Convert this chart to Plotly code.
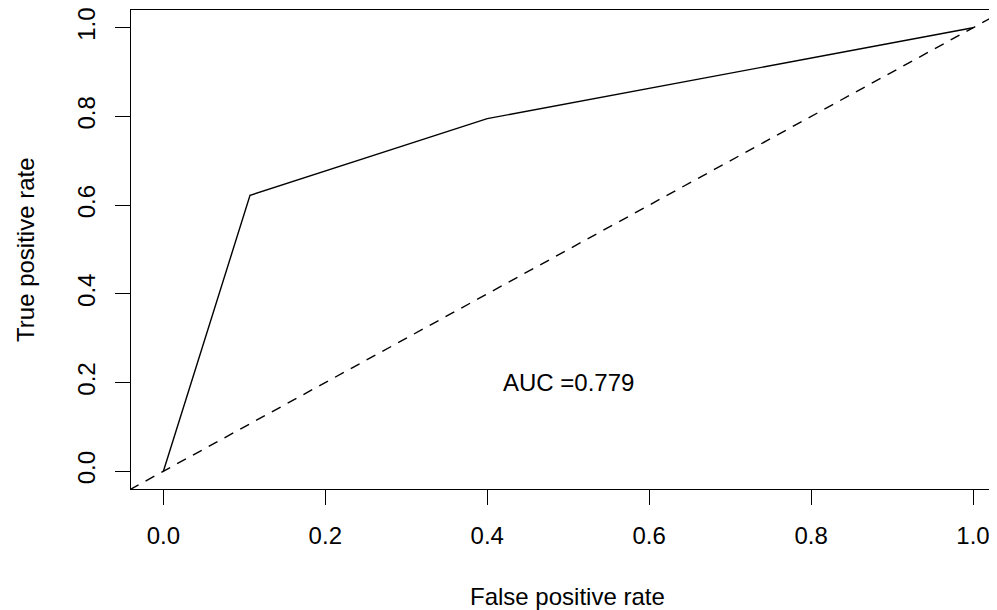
import plotly.graph_objects as go

# ROC curve data
fpr = [0.0, 0.107, 0.4, 1.0]
tpr = [0.0, 0.622, 0.795, 1.0]
# reference diagonal (chance line)
diag = [-0.1, 1.1]
tick_vals = [0.0, 0.2, 0.4, 0.6, 0.8, 1.0]
tick_text = ["0.0", "0.2", "0.4", "0.6", "0.8", "1.0"]
auc_label = "AUC =0.779"
auc_pos = (0.5, 0.2)

# the page body adds an 8px offset, so the figure is drawn 8px smaller
OFF = 8
W, H = 997 - OFF, 610 - OFF
FONT = "Liberation Sans, Arial, Helvetica, sans-serif"
FS = 24

fig = go.Figure()
fig.add_trace(go.Scatter(x=fpr, y=tpr, mode="lines",
                         line=dict(color="black", width=1.4),
                         showlegend=False, hoverinfo="skip"))
fig.add_trace(go.Scatter(x=diag, y=diag, mode="lines",
                         line=dict(color="black", width=1.4, dash="10px,8px"),
                         showlegend=False, hoverinfo="skip"))

fig.add_annotation(x=auc_pos[0], y=auc_pos[1], xref="x", yref="y",
                   text=auc_label, showarrow=False,
                   xanchor="center", yanchor="middle",
                   font=dict(family=FONT, size=FS, color="black"))

left, right, top, bottom = 130.6 - OFF, 997 - OFF, 10.3 - OFF, 489.2 - OFF
fig.add_annotation(x=(567.8 - OFF - left) / (right - left),
                   y=(bottom - (597 - OFF)) / (bottom - top),
                   xref="paper", yref="paper", text="False positive rate",
                   showarrow=False, xanchor="center", yanchor="middle",
                   font=dict(family=FONT, size=FS, color="black"))
fig.add_annotation(x=(25 - OFF - left) / (right - left), y=0.5,
                   xref="paper", yref="paper", text="True positive rate",
                   showarrow=False, xanchor="center", yanchor="middle", textangle=-90,
                   font=dict(family=FONT, size=FS, color="black"))

xscale = 810.0
fig.update_layout(
    width=W, height=H,
    margin=dict(l=left, r=0, t=top, b=H - bottom, pad=0),
    paper_bgcolor="white", plot_bgcolor="white",
    font=dict(family=FONT, size=FS, color="black"),
    xaxis=dict(range=[-0.04, -0.04 + (right - left) / xscale],
               tickvals=tick_vals, ticktext=tick_text,
               ticks="outside", ticklen=15, tickwidth=1.2, tickcolor="black",
               showline=True, linecolor="black", linewidth=1.2, mirror=True,
               showgrid=False, zeroline=False, automargin=False,
               ticklabelstandoff=10, ticklabeloverflow="allow"),
    yaxis=dict(range=[-0.04, 1.04],
               tickvals=tick_vals, ticktext=tick_text, tickangle=-90,
               ticks="outside", ticklen=15, tickwidth=1.2, tickcolor="black",
               showline=True, linecolor="black", linewidth=1.2, mirror=False,
               showgrid=False, zeroline=False, automargin=False,
               ticklabelstandoff=10, ticklabeloverflow="allow"),
)

fig.write_html("out.html")
